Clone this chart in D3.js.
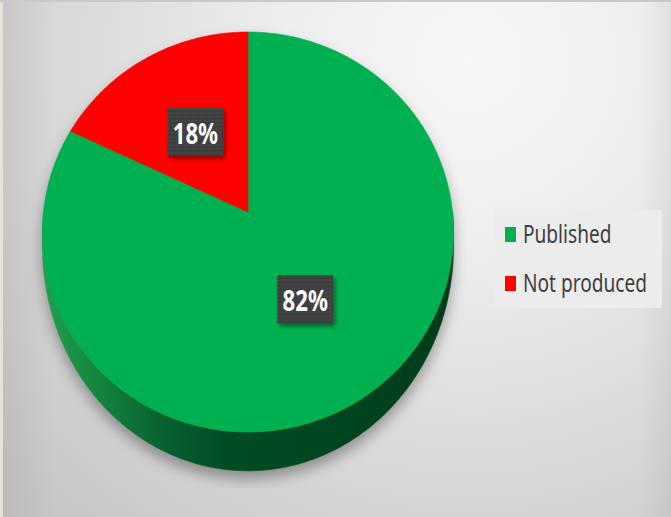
<!DOCTYPE html>
<html>
<head>
<meta charset="utf-8">
<script src="https://cdn.jsdelivr.net/npm/d3@7"></script>
<style>
  html, body { margin: 0; padding: 0; background: #ffffff; }
  svg { display: block; }
</style>
</head>
<body>
<script>
// ---- data ----
const categories = ["Published", "Not produced"];
const values = [82, 18];
const valueLabels = ["82%", "18%"];
const sliceColors = ["#00b050", "#ff0000"];

// ---- canvas ----
const W = 671, H = 517;
const svg = d3.select("body").append("svg")
  .attr("width", W).attr("height", H)
  .attr("viewBox", `0 0 ${W} ${H}`);
const defs = svg.append("defs");

// background: soft grey with a bright spot toward the upper right
const bg = defs.append("radialGradient").attr("id", "bgGrad")
  .attr("gradientUnits", "userSpaceOnUse")
  .attr("cx", 470).attr("cy", 60).attr("r", 620);
[[0, "#f7f7f7"], [0.3, "#eeeeee"], [0.6, "#dcdcdc"], [1, "#c6c6c6"]]
  .forEach(([o, c]) => bg.append("stop").attr("offset", o).attr("stop-color", c));

const edge = defs.append("linearGradient").attr("id", "edgeGrad")
  .attr("x1", 0).attr("x2", 1).attr("y1", 0).attr("y2", 0);
[[0, "rgba(0,0,0,0.06)"], [0.08, "rgba(0,0,0,0)"], [0.95, "rgba(0,0,0,0)"], [1, "rgba(0,0,0,0.05)"]]
  .forEach(([o, c]) => edge.append("stop").attr("offset", o).attr("stop-color", c));

svg.append("rect").attr("width", W).attr("height", H).attr("fill", "url(#bgGrad)");
svg.append("rect").attr("width", W).attr("height", H).attr("fill", "url(#edgeGrad)");
// thin frame lines
svg.append("rect").attr("x", 0).attr("y", 0).attr("width", 3).attr("height", H).attr("fill", "#e6e2d8");
svg.append("rect").attr("x", 0).attr("y", 0).attr("width", W).attr("height", 2).attr("fill", "#c9c9c9");

// ---- 3D pie geometry ----
const cx = 248, cy = 212;      // projected centre of the top face
const rx = 204.5, ry = 198;    // horizontal / vertical radii
const tilt = 0.1;              // perspective strength (near edge appears larger)
const depth = 35;              // thickness of the disc at the nearest edge

function project(angle, r, dz) {
  const u = r * Math.sin(angle);
  const v = -r * Math.cos(angle);
  const s = 1 / (1 - tilt * v);
  // the wall looks thinner toward the sides than at the near edge
  const wall = dz * (0.35 + 0.65 * Math.max(0, v));
  return [cx + rx * u * s, cy + ry * v * s + wall * s];
}
function arcPoints(a0, a1, r, dz) {
  const n = Math.max(2, Math.ceil(Math.abs(a1 - a0) / (Math.PI / 180)));
  return d3.range(n + 1).map(i => project(a0 + (a1 - a0) * i / n, r, dz));
}
const closed = d3.line().curve(d3.curveLinearClosed);

const pie = d3.pie().sort(null).value(d => d);
const arcs = pie(values);

// side wall gradient (lit from the left)
const sideGrad = defs.append("linearGradient").attr("id", "sideGrad")
  .attr("gradientUnits", "userSpaceOnUse")
  .attr("x1", cx - rx).attr("x2", cx + rx).attr("y1", 0).attr("y2", 0);
[[0, "#20a04e"], [0.12, "#178740"], [0.3, "#066030"], [0.45, "#004c23"], [0.75, "#00441f"], [1, "#003b1b"]]
  .forEach(([o, c]) => sideGrad.append("stop").attr("offset", o).attr("stop-color", c));

const redSide = defs.append("linearGradient").attr("id", "sideGradRed")
  .attr("gradientUnits", "userSpaceOnUse")
  .attr("x1", cx - rx).attr("x2", cx + rx).attr("y1", 0).attr("y2", 0);
[[0, "#c00000"], [1, "#600000"]]
  .forEach(([o, c]) => redSide.append("stop").attr("offset", o).attr("stop-color", c));
const sideFills = ["url(#sideGrad)", "url(#sideGradRed)"];

// drop shadow beneath the disc
const blur = defs.append("filter").attr("id", "softShadow")
  .attr("x", "-30%").attr("y", "-30%").attr("width", "160%").attr("height", "160%");
blur.append("feGaussianBlur").attr("stdDeviation", 7);
defs.append("clipPath").attr("id", "shadowClip")
  .append("rect").attr("x", 0).attr("y", 0).attr("width", W).attr("height", 488);

const front0 = Math.PI / 2, front1 = 3 * Math.PI / 2;
const fullTop = arcPoints(0, 2 * Math.PI, 1, 0);
const fullSide = arcPoints(front0, front1, 1, 0).concat(arcPoints(front1, front0, 1, depth));

svg.append("g").attr("clip-path", "url(#shadowClip)")
  .append("g").attr("filter", "url(#softShadow)").attr("transform", "translate(0,8)")
  .selectAll("path").data([fullTop, fullSide]).join("path")
  .attr("d", closed).attr("fill", "rgba(0,0,0,0.34)");

// side walls (only the front half is visible)
svg.append("g").selectAll("path")
  .data(arcs.map((a, i) => ({ a, i }))
    .filter(({ a }) => a.endAngle > front0 && a.startAngle < front1))
  .join("path")
  .attr("d", ({ a }) => {
    const s0 = Math.max(a.startAngle, front0), s1 = Math.min(a.endAngle, front1);
    return closed(arcPoints(s0, s1, 1, 0).concat(arcPoints(s1, s0, 1, depth)));
  })
  .attr("fill", ({ i }) => sideFills[i])
  .attr("stroke", ({ i }) => sideFills[i]).attr("stroke-width", 0.5);

// top face slices
svg.append("g").selectAll("path").data(arcs).join("path")
  .attr("d", a => closed([project(0, 0, 0)].concat(arcPoints(a.startAngle, a.endAngle, 1, 0))))
  .attr("fill", (a, i) => sliceColors[i])
  .attr("stroke", (a, i) => sliceColors[i]).attr("stroke-width", 0.6);

// ---- data labels ----
const dots = defs.append("pattern").attr("id", "dots")
  .attr("patternUnits", "userSpaceOnUse").attr("width", 4).attr("height", 4);
dots.append("rect").attr("width", 4).attr("height", 4).attr("fill", "#3e3e3e");
dots.append("circle").attr("cx", 1).attr("cy", 1).attr("r", 0.7).attr("fill", "#5a5a5a");

const boxShadow = defs.append("filter").attr("id", "boxShadow")
  .attr("x", "-30%").attr("y", "-30%").attr("width", "170%").attr("height", "170%");
boxShadow.append("feDropShadow").attr("dx", 2).attr("dy", 3).attr("stdDeviation", 2)
  .attr("flood-color", "#000").attr("flood-opacity", 0.45);

const boxW = 56, boxH = 48;
const lbl = svg.append("g").selectAll("g").data(arcs).join("g")
  .attr("transform", a => {
    const [x, y] = project((a.startAngle + a.endAngle) / 2, 0.5, 0);
    return `translate(${x},${y})`;
  });
lbl.append("rect")
  .attr("x", -boxW / 2).attr("y", -boxH / 2).attr("width", boxW).attr("height", boxH)
  .attr("fill", "url(#dots)").attr("filter", "url(#boxShadow)");
lbl.append("text")
  .attr("transform", "translate(0,12) scale(0.79,1)")
  .attr("text-anchor", "middle")
  .attr("font-family", "'Noto Sans', 'DejaVu Sans', sans-serif")
  .attr("font-weight", 700).attr("font-size", 28)
  .attr("fill", "#ffffff")
  .text((a, i) => valueLabels[i]);

// ---- legend ----
const legend = svg.append("g").attr("transform", "translate(495,210)");
legend.append("rect").attr("width", 167).attr("height", 98).attr("fill", "#ececec");
const item = legend.selectAll("g").data(categories).join("g")
  .attr("transform", (d, i) => `translate(10,${17 + i * 49})`);
item.append("rect").attr("width", 11).attr("height", 15)
  .attr("fill", (d, i) => sliceColors[i]);
item.append("text")
  .attr("transform", "translate(18,16) scale(0.78,1)")
  .attr("font-family", "'Noto Sans', 'DejaVu Sans', sans-serif")
  .attr("font-size", 24.5).attr("fill", "#404040")
  .text(d => d);
</script>
</body>
</html>
